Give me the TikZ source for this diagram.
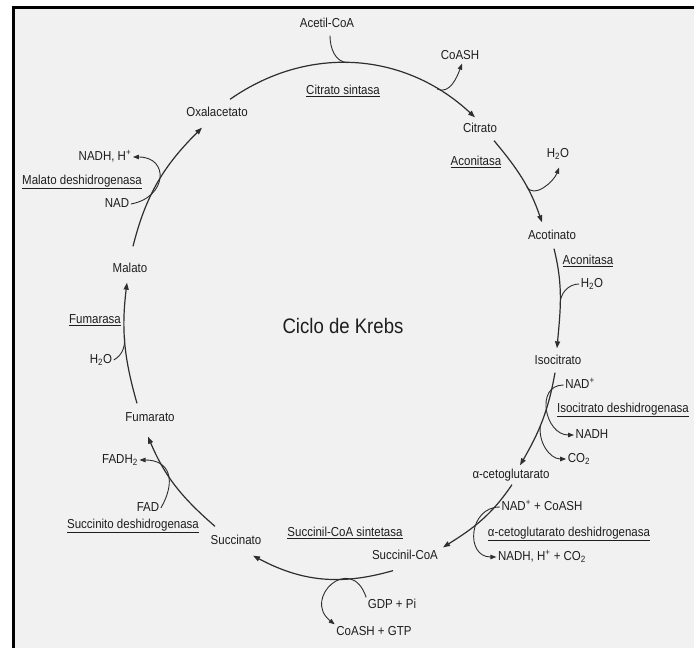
\documentclass[tikz,border=0pt]{standalone}
\usepackage{fontspec}
\setmainfont{Liberation Sans}[FakeStretch=0.885]
\usetikzlibrary{arrows.meta}
\definecolor{paper}{HTML}{F1F1F1}
\definecolor{ink}{HTML}{1E1E1E}
\definecolor{wire}{HTML}{2E2E2E}

\begin{document}
\begin{tikzpicture}[x=1pt,y=1pt,
  font=\fontsize{13}{15}\selectfont,
  lbl/.style={text=ink, inner sep=1.5pt, text height=9.3pt, text depth=2.6pt},
  cycarrow/.style={draw=wire, line width=1.2pt, -{Triangle[length=7pt,width=5pt]}},
  branch/.style={draw=wire, line width=0.9pt},
  brancharrow/.style={branch, -{Triangle[length=6pt,width=4.5pt]}}]
\useasboundingbox (0,0) rectangle (694,648);
\fill[white] (0,0) rectangle (694,648);
\fill[paper] (13,0) rectangle (694,640);
\draw[black, line width=3pt] (13,0) -- (13,640) -- (694,640);

\node[lbl] (acetil) at (327,624) {Acetil-CoA};
\node[lbl] (oxa) at (217,535) {Oxalacetato};
\node[lbl] (cit) at (480,519) {Citrato};
\node[lbl] (acot) at (552,412) {Acotinato};
\node[lbl] (iso) at (558,287) {Isocitrato};
\node[lbl] (akg) at (511,173) {α-cetoglutarato};
\node[lbl] (scoa) at (405,92) {Succinil-CoA};
\node[lbl] (succ) at (236,107) {Succinato};
\node[lbl] (fum) at (150,230) {Fumarato};
\node[lbl] (mal) at (130,379) {Malato};
\node[text=ink, font=\fontsize{21}{24}\selectfont] (titulo) at (343,322) {Ciclo de Krebs};

\node[lbl] (coash) at (460,592) {CoASH};
\node[lbl] (cs) at (343,557) {\underline{Citrato sintasa}};
\node[lbl] (h2oa) at (558,494) {H\textsubscript{2}O};
\node[lbl] (acona) at (476,486) {\underline{Aconitasa}};
\node[lbl] (aconb) at (588,387) {\underline{Aconitasa}};
\node[lbl] (h2ob) at (592,364) {H\textsubscript{2}O};
\node[lbl] (nada) at (580,263) {NAD\textsuperscript{+}};
\node[lbl] (idh) at (623,239) {\underline{Isocitrato deshidrogenasa}};
\node[lbl] (nadha) at (592,213) {NADH};
\node[lbl] (co2) at (579,189) {CO\textsubscript{2}};
\node[lbl] (nadcoa) at (542,141) {NAD\textsuperscript{+} + CoASH};
\node[lbl] (akgdh) at (569,115) {\underline{α-cetoglutarato deshidrogenasa}};
\node[lbl] (nadhco2) at (542,91) {NADH, H\textsuperscript{+} + CO\textsubscript{2}};
\node[lbl] (scs) at (345,115) {\underline{Succinil-CoA sintetasa}};
\node[lbl] (gdp) at (392,43) {GDP + Pi};
\node[lbl] (gtp) at (374,16) {CoASH + GTP};
\node[lbl] (sdh) at (133,123) {\underline{Succinito deshidrogenasa}};
\node[lbl] (fad) at (148,140) {FAD};
\node[lbl] (fadh2) at (120,188) {FADH\textsubscript{2}};
\node[lbl] (h2oc) at (101,288) {H\textsubscript{2}O};
\node[lbl] (fumasa) at (95,328) {\underline{Fumarasa}};
\node[lbl] (nadb) at (117,444) {NAD};
\node[lbl] (mdh) at (82,467) {\underline{Malato deshidrogenasa}};
\node[lbl] (nadhb) at (105,491) {NADH, H\textsuperscript{+}};

\draw[cycarrow] ([shift={(13,6)}]oxa.north) to[out=35,in=137] coordinate[pos=.47] (ja) coordinate[pos=.83] (jb) ([shift={(-5,4)}]cit.north);
\draw[branch] ([shift={(3,-4)}]acetil.south) to[out=-90,in=178] (ja);
\draw[brancharrow] (jb) to[out=-25,in=-110] ([xshift=2]coash.south);

\draw[cycarrow] ([shift={(14,-4)}]cit.south) to[out=-50,in=109] coordinate[pos=.6] (jc) ([shift={(-10,6)}]acot.north);
\draw[brancharrow] (jc) to[out=-60,in=-110] ([shift={(1,-6)}]h2oa.south);

\draw[cycarrow] ([shift={(2,-5)}]acot.south) to[out=-76,in=85] coordinate[pos=.57] (jd) ([shift={(-1,5)}]iso.north);
\draw[branch] (h2ob.west) to[out=180,in=93] (jd);

\draw[cycarrow] ([shift={(-3,-4)}]iso.south) to[out=-100,in=60] coordinate[pos=.55] (je) ([shift={(9,2)}]akg.north);
\draw[brancharrow] (nada.west) to[out=180,in=180,looseness=1.45] (nadha.west);
\draw[brancharrow] (je) to[out=-100,in=180] (co2.west);

\draw[cycarrow] ([shift={(1,-2)}]akg.south) to[out=-124,in=32] ([shift={(38,1)}]scoa.north);
\draw[brancharrow] (nadcoa.west) to[out=180,in=180,looseness=1.6] (nadhco2.west);

\draw[cycarrow] ([shift={(-12,-7)}]scoa.south) to[out=-164,in=-28] ([shift={(17,-7)}]succ.south);
\draw[brancharrow] (gdp.north west) .. controls +(-15,45) and +(-33,26) .. (gtp.north west);

\draw[cycarrow] ([shift={(-21,7)}]succ.north) to[out=139,in=-67] ([shift={(-2,-11)}]fum.south);
\draw[brancharrow] (fad.east) to[out=60,in=0,looseness=1.5] (fadh2.east);

\draw[cycarrow] ([shift={(-13,7)}]fum.north) to[out=106,in=-97] coordinate[pos=.55] (jg) ([shift={(-3,-6)}]mal.south);
\draw[branch] (h2oc.east) to[out=30,in=-87] (jg);

\draw[cycarrow] ([shift={(3,15)}]mal.north) to[out=76,in=-135] ([shift={(-15,-7)}]oxa.south);
\draw[brancharrow] (nadb.east) to[out=10,in=0,looseness=2] (nadhb.east);
\end{tikzpicture}
\end{document}
